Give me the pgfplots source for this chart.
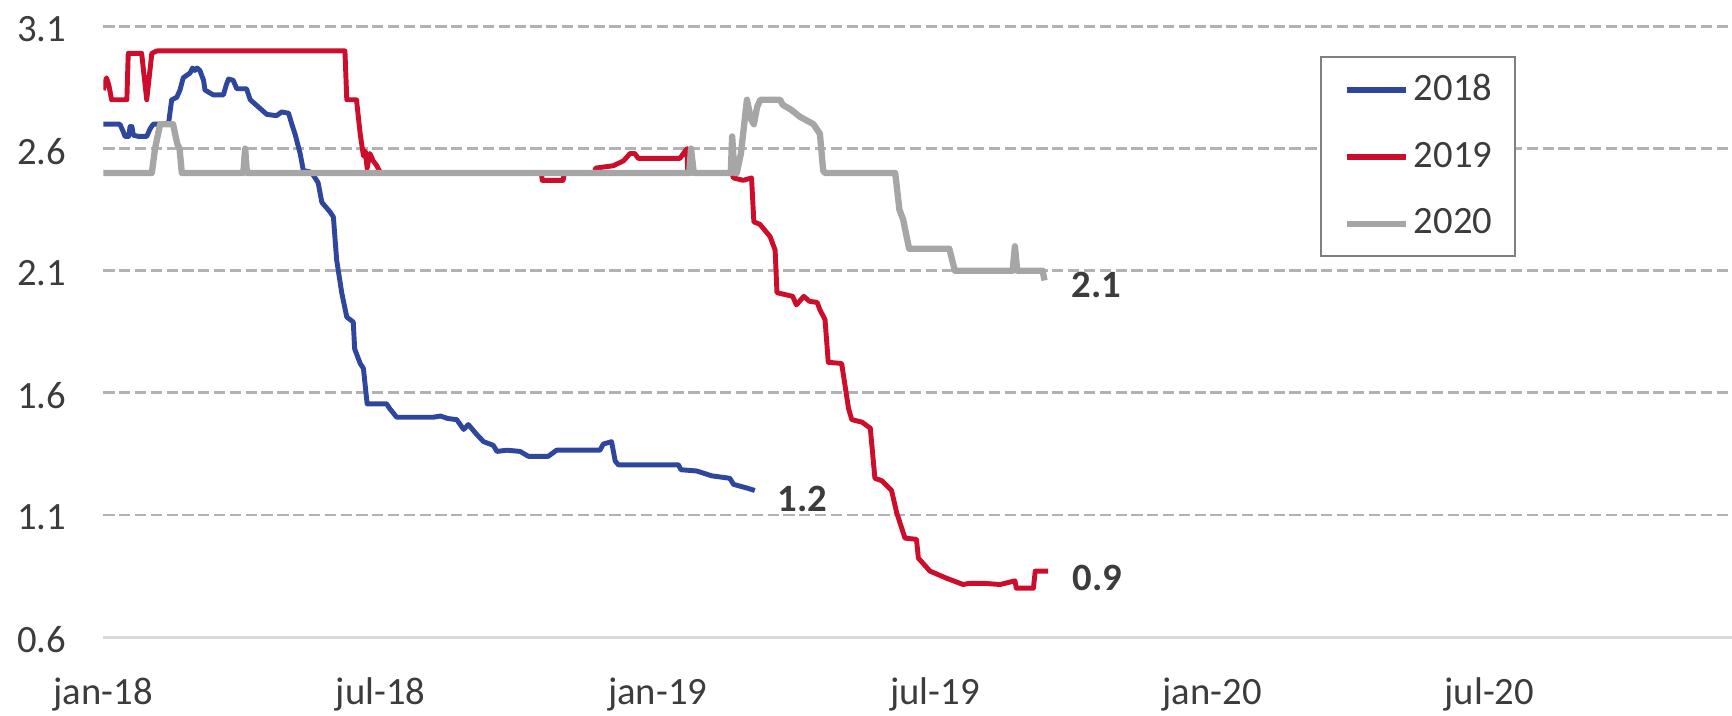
\documentclass[border=0pt]{standalone}
\usepackage{fontspec}
\setmainfont{Carlito}
\usepackage{pgfplots}
\pgfplotsset{compat=1.18}
\definecolor{c18}{RGB}{46,71,157}
\definecolor{c19}{RGB}{204,14,44}
\definecolor{c20}{RGB}{166,166,166}
\definecolor{gridc}{RGB}{178,178,178}
\definecolor{axc}{RGB}{217,217,217}
\definecolor{txt}{RGB}{60,60,60}
\definecolor{legc}{RGB}{128,128,128}
\begin{document}
\begin{tikzpicture}
\path[use as bounding box] (-10.33mm,-7.8mm) rectangle (162.87mm,63.7mm);
\begin{axis}[
  at={(0,0)}, anchor=south west,
  scale only axis, width=162.87mm, height=61.05mm,
  xmin=0, xmax=35.25, ymin=0.6, ymax=3.1,
  axis x line*=bottom, axis y line*=left,
  x axis line style={draw=axc, line width=0.85pt, -},
  y axis line style={draw=none},
  xtick={0,6,12,18,24,30},
  xticklabels={jan-18,jul-18,jan-19,jul-19,jan-20,jul-20},
  ytick={1.1,1.6,2.1,2.6,3.1},
  yticklabels={1.1,1.6,2.1,2.6,3.1},
  extra y ticks={0.6}, extra y tick labels={0.6},
  extra y tick style={grid=none},
  ymajorgrids,
  major grid style={draw=gridc, line width=0.75pt, dash pattern=on 3.2pt off 1.3pt},
  major tick length=0pt,
  tick style={draw=none},
  /pgf/number format/assume math mode=true,
  ticklabel style={font=\fontsize{11}{13}\selectfont, text=txt, inner sep=0pt},
  yticklabel style={anchor=east, xshift=-3.63mm, yshift=-0.25mm},
  xticklabel style={anchor=base, yshift=-6.7mm},
  legend style={at={(0.747,0.952)}, anchor=north west, draw=legc, line width=0.6pt,
    fill=white, inner xsep=2.3mm, inner ysep=1.7mm, row sep=3.64mm, column sep=0.5mm,
    font=\fontsize{11}{13}\selectfont,
    nodes={inner sep=0pt, text=txt}},
  legend cell align=left,
  legend image code/.code={\draw[#1, line width=1.7pt] (0mm,0mm) -- (5.9mm,0mm);},
]
% 2018
\addplot[c18, line width=1.4pt, line join=round] coordinates {
(0,2.70) (0.36,2.70) (0.43,2.67) (0.47,2.65) (0.55,2.65) (0.58,2.69) (0.62,2.69)
(0.65,2.655) (0.76,2.65) (0.94,2.65) (1.01,2.68) (1.08,2.70) (1.41,2.70) (1.48,2.80)
(1.59,2.81) (1.66,2.84) (1.73,2.89) (1.88,2.91) (1.93,2.93) (1.98,2.92) (2.03,2.93)
(2.09,2.92) (2.17,2.88) (2.2,2.84) (2.38,2.82) (2.6,2.82) (2.66,2.86) (2.71,2.885)
(2.81,2.88) (2.89,2.845) (3.1,2.845) (3.18,2.80) (3.36,2.77) (3.54,2.74) (3.75,2.735)
(3.86,2.75) (4.01,2.745) (4.08,2.70) (4.15,2.66) (4.26,2.58) (4.33,2.51) (4.47,2.505)
(4.55,2.49) (4.65,2.46) (4.73,2.38) (4.91,2.34) (4.98,2.32) (5.05,2.145) (5.16,2.01)
(5.27,1.91) (5.41,1.89) (5.44,1.78) (5.56,1.72) (5.63,1.70) (5.71,1.555) (6.13,1.555)
(6.2,1.535) (6.35,1.50) (7.14,1.50) (7.3,1.505) (7.45,1.495) (7.65,1.49) (7.8,1.45)
(7.9,1.47) (8.08,1.43) (8.23,1.40) (8.44,1.385) (8.52,1.36) (8.74,1.365) (9.02,1.36)
(9.2,1.34) (9.63,1.34) (9.81,1.365) (10.75,1.365) (10.82,1.39) (11.0,1.40) (11.08,1.32)
(11.15,1.305) (12.45,1.305) (12.5,1.285) (12.84,1.28) (13.17,1.26) (13.56,1.25)
(13.64,1.225) (13.93,1.21) (14.1,1.20)
};
% 2019
\addplot[c19, line width=1.4pt, line join=round] coordinates {
(0,2.84) (0.07,2.89) (0.12,2.86) (0.18,2.80) (0.51,2.80) (0.54,2.99) (0.83,2.99)
(0.94,2.80) (1.05,2.99) (1.16,3.00) (5.23,3.00) (5.27,2.80) (5.48,2.80) (5.56,2.66)
(5.63,2.57) (5.67,2.59) (5.71,2.52) (5.77,2.58) (5.84,2.55) (5.92,2.53) (6.0,2.50)
(9.48,2.50) (9.5,2.47) (9.95,2.47) (9.98,2.50) (10.64,2.50) (10.65,2.52) (11.04,2.53)
(11.26,2.55) (11.4,2.58) (11.5,2.58) (11.58,2.56) (12.48,2.56) (12.63,2.60) (12.65,2.50)
(13.6,2.50) (13.64,2.48) (13.85,2.47) (14.03,2.48) (14.08,2.30) (14.21,2.29) (14.43,2.24)
(14.54,2.185) (14.58,2.01) (14.92,1.995) (15.0,1.96) (15.16,1.995) (15.28,1.975)
(15.45,1.97) (15.51,1.94) (15.62,1.90) (15.69,1.725) (15.98,1.72) (16.13,1.535)
(16.2,1.49) (16.42,1.48) (16.6,1.455) (16.7,1.25) (16.85,1.24) (17.06,1.20) (17.17,1.11)
(17.35,1.005) (17.6,1.00) (17.64,0.923) (17.89,0.87) (18.26,0.84) (18.61,0.815)
(18.75,0.82) (19.05,0.82) (19.41,0.815) (19.73,0.83) (19.76,0.80) (20.13,0.80)
(20.17,0.87) (20.45,0.87)
};
% 2020
\addplot[c20, line width=1.8pt, line join=round] coordinates {
(0,2.50) (1.05,2.50) (1.12,2.60) (1.23,2.70) (1.51,2.70) (1.6,2.62) (1.65,2.60)
(1.70,2.50) (3.03,2.50) (3.07,2.60) (3.11,2.50) (12.68,2.50) (12.72,2.60) (12.78,2.50)
(13.58,2.50) (13.61,2.65) (13.66,2.50) (13.71,2.50) (13.8,2.58) (13.93,2.80) (14.02,2.72)
(14.08,2.70) (14.15,2.77) (14.22,2.80) (14.65,2.80) (14.7,2.78) (14.88,2.76) (15.08,2.73)
(15.37,2.70) (15.51,2.66) (15.58,2.51) (15.62,2.50) (17.14,2.50) (17.23,2.35) (17.31,2.31)
(17.44,2.19) (18.31,2.19) (18.43,2.10) (19.68,2.10) (19.73,2.20) (19.78,2.10) (20.33,2.10)
(20.37,2.06)
};
\legend{2018,2019,2020}
\node[font=\bfseries\fontsize{11}{13}\selectfont, text=txt, inner sep=0pt] at (axis cs:21.49,2.04) {2.1};
\node[font=\bfseries\fontsize{11}{13}\selectfont, text=txt, inner sep=0pt] at (axis cs:15.13,1.167) {1.2};
\node[font=\bfseries\fontsize{11}{13}\selectfont, text=txt, inner sep=0pt] at (axis cs:21.51,0.84) {0.9};
\end{axis}
\end{tikzpicture}
\end{document}
